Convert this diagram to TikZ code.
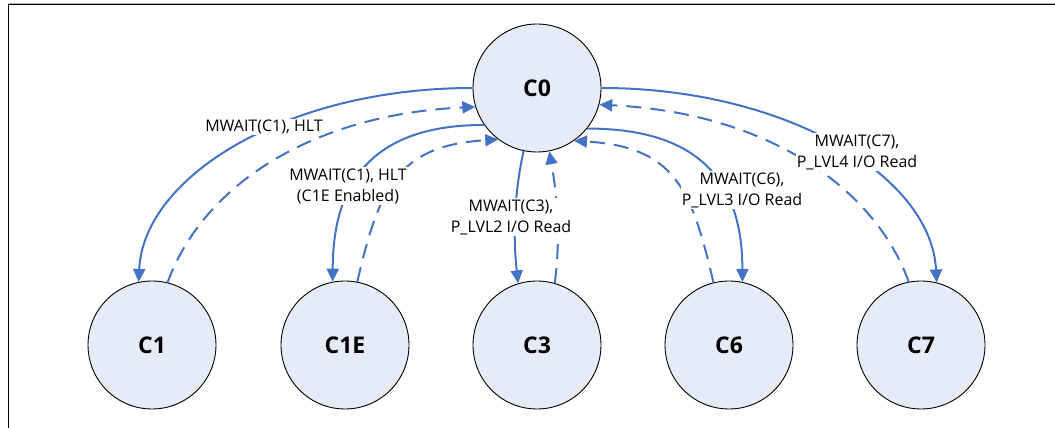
\documentclass[tikz,border=0pt]{standalone}
\usepackage{fontspec}
\setmainfont{Open Sans}
\usetikzlibrary{arrows.meta}
\definecolor{arrowblue}{RGB}{68,114,196}
\definecolor{statefill}{RGB}{230,236,247}

\begin{document}
\begin{tikzpicture}[x=1pt,y=1pt,
    state/.style={circle,draw=black,line width=0.9pt,fill=statefill,
      minimum size=128pt,inner sep=0pt,font=\fontsize{23}{26}\selectfont\bfseries},
    enter/.style={arrowblue,line width=2pt,-{Triangle[length=13pt,width=12pt]}},
    leave/.style={enter,dash pattern=on 15pt off 9pt},
    trans/.style={fill=white,inner sep=1pt,align=center,
      font=\fontsize{16}{21}\selectfont}]

  \useasboundingbox (0,0) rectangle (1055,428);

  % frame
  \draw[gray!60,line width=1pt] (8,424.7) -- (1055,424.7);
  \draw[line width=1.3pt] (8.3,0) -- (8.3,423.4) -- (1055,423.4);

  % active state
  \node[state] (c0) at (537,340) {C0};
  % idle states
  \foreach \name/\lbl/\x in {c1/C1/152,c1e/C1E/345,c3/C3/537,c6/C6/729,c7/C7/921}
    \node[state] (\name) at (\x,83) {\lbl};

  % C0 <-> C1
  \draw[enter] (c0.180) .. controls +(-185,0) and +(5,106) .. (c1.102);
  \draw[leave] (c1.76) .. controls +(34,94) and +(-168,-8) .. (c0.197);
  % C0 <-> C1E
  \draw[enter] (c0.215) .. controls +(-90,0) and +(0,120) .. (c1e.101);
  \draw[leave] (c1e.79) .. controls +(22,95) and +(-100,-6) .. (c0.233);
  % C0 <-> C3
  \draw[enter] (c0.258) .. controls +(-10,-45) and +(-5,45) .. (c3.107);
  \draw[leave] (c3.74) .. controls +(6,45) and +(8,-45) .. (c0.281);
  % C0 <-> C6
  \draw[leave] (c6.104) .. controls +(-22,95) and +(100,-6) .. (c0.305);
  \draw[enter] (c0.321) .. controls +(90,0) and +(0,120) .. (c6.78);
  % C0 <-> C7
  \draw[leave] (c7.101) .. controls +(-34,94) and +(168,-8) .. (c0.345);
  \draw[enter] (c0.0) .. controls +(185,0) and +(-5,106) .. (c7.76);

  % transition labels
  \node[trans] (l1) at (264,301) {MWAIT(C1), HLT};
  \node[trans] (l2) at (348,242) {MWAIT(C1), HLT\\(C1E Enabled)};
  \node[trans] (l3) at (511,211) {MWAIT(C3),\\P\_LVL2 I/O Read};
  \node[trans] (l4) at (742,238) {MWAIT(C6),\\P\_LVL3 I/O Read};
  \node[trans] (l5) at (857,276) {MWAIT(C7),\\P\_LVL4 I/O Read};

\end{tikzpicture}
\end{document}
